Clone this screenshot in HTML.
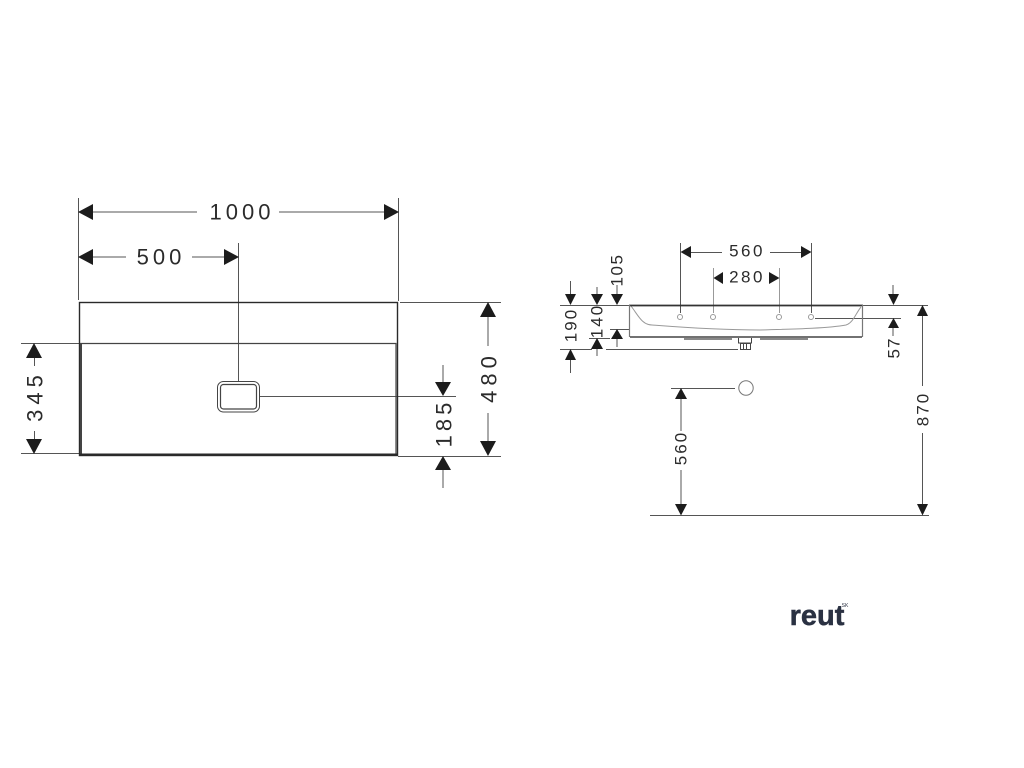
<!DOCTYPE html>
<html><head><meta charset="utf-8"><style>
html,body{margin:0;padding:0;background:#fff}
svg{display:block}
text{font-family:"Liberation Sans",sans-serif;fill:#2b2b2b;text-anchor:middle;dominant-baseline:central}
#all{filter:blur(0.35px)}
</style></head><body>
<svg width="1024" height="768" viewBox="0 0 1024 768" xmlns="http://www.w3.org/2000/svg">
<rect width="1024" height="768" fill="#fff"/>
<g id="all">
<g stroke="#555" stroke-width="1" fill="none">
<path d="M78.500 198V300M398.500 198V301M238.500 243V381"/>
<path d="M93 212H197M279 212H384M93 257H126M192 257H224"/>
<path d="M21 343.500H80M21 453.500H80M34.500 358V366M34.500 431V439"/>
<path d="M400 302.500H501M398 456.500H501M488 316V346M488 413V442"/>
<path d="M260 396.500H456M443 365V382M443 470V488"/>
<path d="M560 305.500H630M862 305.500H928M560 349.500H592M606 349.500H738M589 338.500H610M610 329.500H630"/>
<path d="M570.500 281V295M570.500 360V373M597 287V295M597 349V356M617 285V294M617 339V347"/>
<path d="M680.500 243V313M811.500 243V313M691 252.500H722M770 252.500H801"/>
<path d="M815 318.500H901M893 285V294M893 328V336"/>
<path d="M922.500 316V386M922.500 433V504M650 515.500H929"/>
<path d="M681 399V431M681 470V505M671 388.500H735"/>
</g>
<g stroke="#999" stroke-width="1" fill="none">
<path d="M713.500 268V313M779.500 268V313"/>
<circle cx="746" cy="388" r="7.200" stroke="#777"/>
<rect x="677.500" y="314.500" width="5" height="5" rx="2.500"/>
<rect x="710.500" y="314.500" width="5" height="5" rx="2.500"/>
<rect x="776.500" y="314.500" width="5" height="5" rx="2.500"/>
<rect x="808.500" y="314.500" width="5" height="5" rx="2.500"/>
<path d="M631 306C638 315 642 325 652 325C690 328 730 330 760 330C800 329 830 328 846 325C853 323 856 313 861 307"/>
</g>
<g fill="none" stroke="#2a2a2a">
<rect x="79.500" y="302.500" width="318" height="153" stroke-width="1.400"/>
<path d="M80 343.500H396V454" stroke-width="1.200" stroke="#444"/>
<path d="M81 344V454" stroke-width="2" stroke="#444"/>
<path d="M80 454.500H397" stroke-width="2"/>
<rect x="217.500" y="381.500" width="42" height="30.500" rx="6" stroke-width="1" stroke="#444"/>
<rect x="220.500" y="384.500" width="36" height="24.500" rx="3" stroke-width="1.200" stroke="#444"/>
</g>
<g fill="none" stroke="#333">
<path d="M629 305.500H863" stroke-width="1.800"/>
<path d="M629.500 305V337M862.500 305V337" stroke="#777" stroke-width="1.200"/>
<path d="M630 337H862" stroke-width="1.600" stroke="#444"/>
<path d="M684 339H732M760 339H808" stroke-width="2" stroke="#888"/>
</g>
<g fill="none" stroke="#444" stroke-width="1">
<path d="M738.500 338V343H751.500V338"/>
<rect x="740.500" y="343.500" width="10" height="6"/>
<path d="M743.500 343V349M746.500 343V349"/>
</g>
<g fill="#1c1c1c">
<path d="M78 212L93 204V220ZM399 212L384 204V220ZM78 257L93 249V265ZM239 257L224 249V265Z"/>
<path d="M34 343L26 358H42ZM34 454L26 439H42Z"/>
<path d="M488 302L480 317H496ZM488 456L480 441H496Z"/>
<path d="M443 396L435 382H451ZM443 456L435 470H451Z"/>
<path d="M570.500 305L565 294H576ZM570.500 349L565 360H576Z"/>
<path d="M597 305L591 294H603ZM597 338L591 349H603Z"/>
<path d="M617 305L611 294H623ZM617 329L611 339H623Z"/>
<path d="M680.500 252L691 246V258ZM811.500 252L801 246V258ZM713.500 278L723 272V284ZM779.500 278L769 272V284Z"/>
<path d="M893.500 305L888 294H899ZM893.500 318L888 328H899Z"/>
<path d="M922.500 305L917 316H928ZM922.500 515.500L917 504H928Z"/>
<path d="M681 388L675 399H687ZM681 515.500L675 504H687Z"/>
</g>
<text x="242" y="212" font-size="22" letter-spacing="4">1000</text>
<text x="161" y="257" font-size="22" letter-spacing="4">500</text>
<text transform="translate(35 396) rotate(-90)" font-size="22" letter-spacing="5">345</text>
<text transform="translate(489 377) rotate(-90)" font-size="22" letter-spacing="5">480</text>
<text transform="translate(444 423) rotate(-90)" font-size="22" letter-spacing="4">185</text>
<text x="747" y="251" font-size="17" letter-spacing="2.500">560</text>
<text x="747" y="277" font-size="17" letter-spacing="2.500">280</text>
<text transform="translate(571 325) rotate(-90)" font-size="17" letter-spacing="2">190</text>
<text transform="translate(597 321) rotate(-90)" font-size="17" letter-spacing="2">140</text>
<text transform="translate(617 270) rotate(-90)" font-size="17" letter-spacing="1.500">105</text>
<text transform="translate(894 348) rotate(-90)" font-size="17" letter-spacing="1">57</text>
<text transform="translate(923 409) rotate(-90)" font-size="17" letter-spacing="2">870</text>
<text transform="translate(681 448) rotate(-90)" font-size="17" letter-spacing="2">560</text>
<text x="817" y="625" font-size="29" font-weight="bold" style="fill:#2a3142;stroke:#2a3142;stroke-width:0.500;dominant-baseline:auto">reut</text>
<text x="845" y="606" font-size="5" style="fill:#2a3142">SK</text>
</g>
</svg>
</body></html>
